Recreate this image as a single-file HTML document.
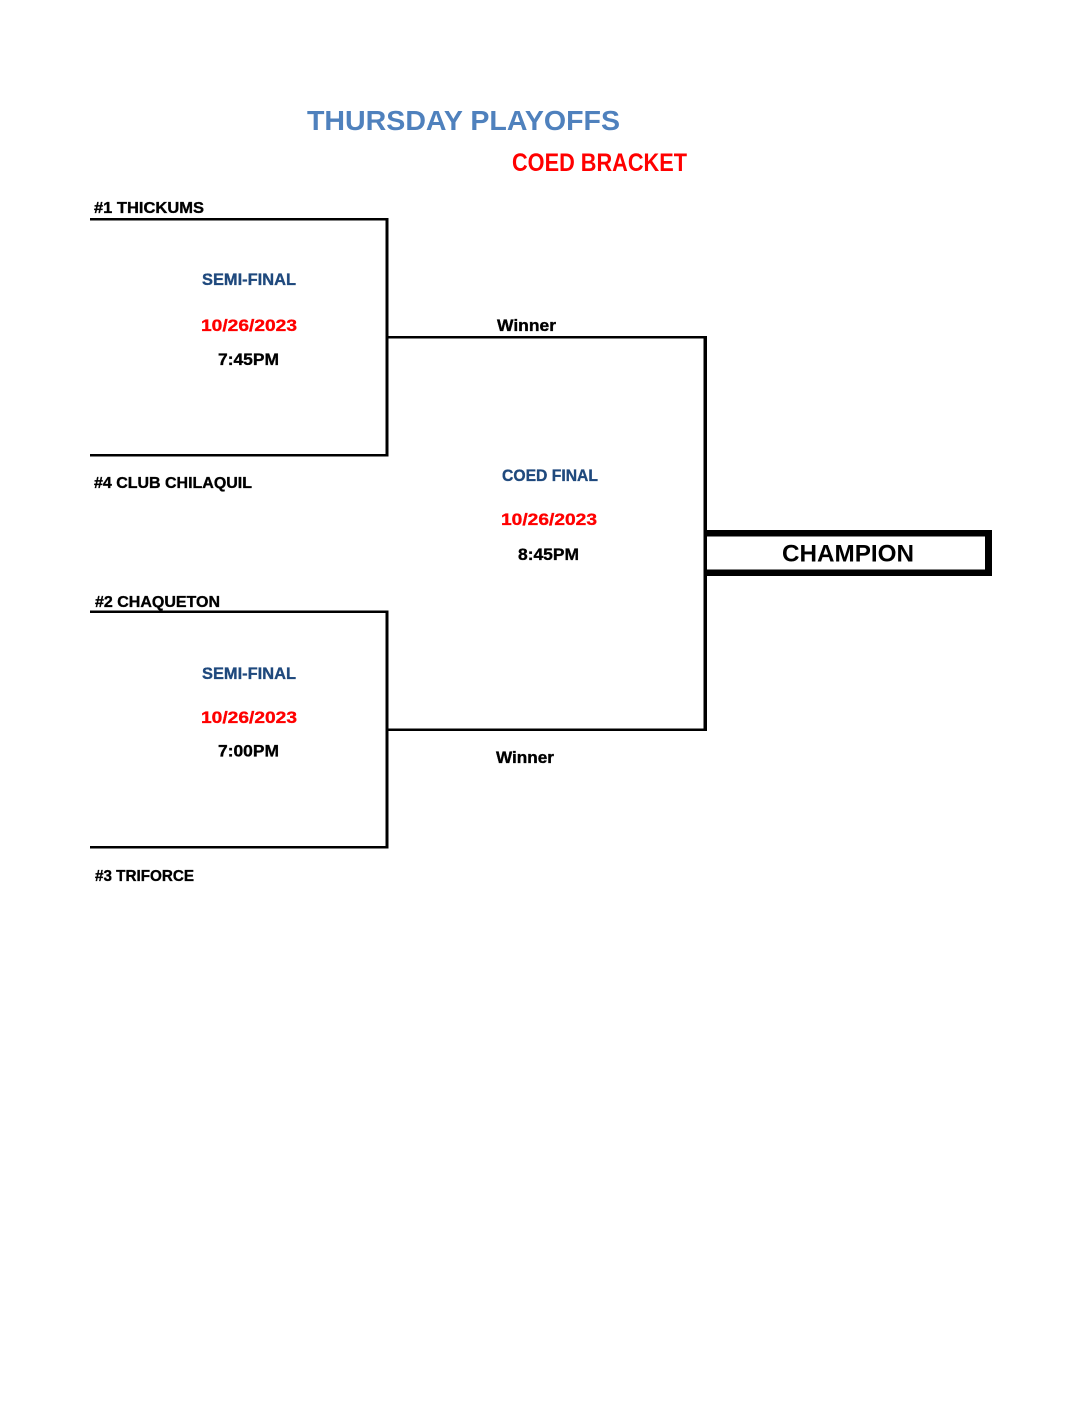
<!DOCTYPE html>
<html>
<head>
<meta charset="utf-8">
<style>
  html, body { margin: 0; padding: 0; background: #fff; }
  body { width: 1088px; height: 1408px; overflow: hidden; }
  svg { display: block; }
  text { font-family: "Liberation Sans", Arial, sans-serif; font-weight: bold; }
  .w { stroke-width: 0.35; }
</style>
</head>
<body>
<svg width="1088" height="1408" viewBox="0 0 1088 1408" xmlns="http://www.w3.org/2000/svg">
  <rect width="1088" height="1408" fill="#fff"/>

  <!-- Titles -->
  <text x="307" y="130" font-size="28" fill="#4f81bd" textLength="313" lengthAdjust="spacingAndGlyphs">THURSDAY PLAYOFFS</text>
  <text x="512" y="171" font-size="25" fill="#ff0000" textLength="175" lengthAdjust="spacingAndGlyphs">COED BRACKET</text>

  <!-- Top bracket -->
  <g fill="#000">
    <rect x="90" y="218" width="298" height="2.5"/>
    <rect x="385.5" y="218" width="3" height="238.5"/>
    <rect x="90" y="454" width="298.5" height="2.5"/>
    <rect x="385.5" y="336" width="321" height="2.5"/>
    <rect x="703.5" y="336" width="3.5" height="395"/>
    <!-- Bottom bracket -->
    <rect x="90" y="610.5" width="298" height="2.5"/>
    <rect x="385.5" y="610.5" width="3" height="238"/>
    <rect x="90" y="846" width="298.5" height="2.5"/>
    <rect x="385.5" y="728.5" width="321.5" height="2.5"/>
    <!-- Champion box -->
    <rect x="705" y="530" width="287" height="6.5"/>
    <rect x="705" y="569.5" width="287" height="6.5"/>
    <rect x="985" y="530" width="7" height="46"/>
  </g>

  <!-- Team labels -->
  <text class="w" stroke="#000" x="94" y="213" font-size="16" fill="#000" textLength="110" lengthAdjust="spacingAndGlyphs">#1 THICKUMS</text>
  <text class="w" stroke="#000" x="94" y="488" font-size="16" fill="#000" textLength="158" lengthAdjust="spacingAndGlyphs">#4 CLUB CHILAQUIL</text>
  <text class="w" stroke="#000" x="95" y="607" font-size="16" fill="#000" textLength="125" lengthAdjust="spacingAndGlyphs">#2 CHAQUETON</text>
  <text class="w" stroke="#000" x="95" y="881" font-size="16" fill="#000" textLength="99" lengthAdjust="spacingAndGlyphs">#3 TRIFORCE</text>

  <!-- Top semi-final -->
  <text class="w" stroke="#1f497d" x="202" y="285" font-size="17" fill="#1f497d" textLength="94" lengthAdjust="spacingAndGlyphs">SEMI-FINAL</text>
  <text class="w" stroke="#ff0000" x="201" y="331" font-size="17" fill="#ff0000" textLength="96" lengthAdjust="spacingAndGlyphs">10/26/2023</text>
  <text class="w" stroke="#000" x="218" y="365" font-size="17" fill="#000" textLength="61" lengthAdjust="spacingAndGlyphs">7:45PM</text>

  <!-- Bottom semi-final -->
  <text class="w" stroke="#1f497d" x="202" y="679" font-size="17" fill="#1f497d" textLength="94" lengthAdjust="spacingAndGlyphs">SEMI-FINAL</text>
  <text class="w" stroke="#ff0000" x="201" y="723" font-size="17" fill="#ff0000" textLength="96" lengthAdjust="spacingAndGlyphs">10/26/2023</text>
  <text class="w" stroke="#000" x="218" y="756.5" font-size="17" fill="#000" textLength="61" lengthAdjust="spacingAndGlyphs">7:00PM</text>

  <!-- Winners -->
  <text class="w" stroke="#000" x="497" y="331" font-size="17" fill="#000" textLength="59" lengthAdjust="spacingAndGlyphs">Winner</text>
  <text class="w" stroke="#000" x="496" y="763" font-size="17" fill="#000" textLength="58" lengthAdjust="spacingAndGlyphs">Winner</text>

  <!-- Final -->
  <text class="w" stroke="#1f497d" x="502" y="481" font-size="17" fill="#1f497d" textLength="96" lengthAdjust="spacingAndGlyphs">COED FINAL</text>
  <text class="w" stroke="#ff0000" x="501" y="525" font-size="17" fill="#ff0000" textLength="96" lengthAdjust="spacingAndGlyphs">10/26/2023</text>
  <text class="w" stroke="#000" x="518" y="560" font-size="17" fill="#000" textLength="61" lengthAdjust="spacingAndGlyphs">8:45PM</text>

  <!-- Champion -->
  <text x="782" y="561.5" font-size="24" fill="#000" textLength="132" lengthAdjust="spacingAndGlyphs">CHAMPION</text>
</svg>
</body>
</html>
